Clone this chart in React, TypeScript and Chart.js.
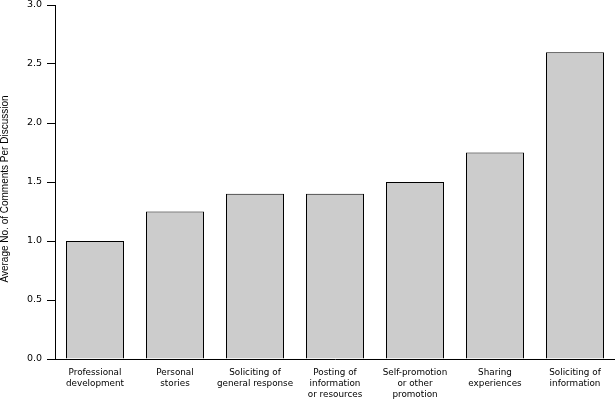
import React, { useEffect, useRef } from "react";
import { Chart, registerables } from "chart.js";

Chart.register(...registerables);

const categories: string[][] = [
  ["Professional", "development"],
  ["Personal", "stories"],
  ["Soliciting of", "general response"],
  ["Posting of", "information", "or resources"],
  ["Self-promotion", "or other", "promotion"],
  ["Sharing", "experiences"],
  ["Soliciting of", "information"],
];
const values: number[] = [1.0, 1.25, 1.4, 1.4, 1.5, 1.75, 2.6];
const yTitle = "Average No. of Comments Per Discussion";

const yTitlePlugin = {
  id: "yTitlePlugin",
  afterDraw(chart: any) {
    const c = chart.ctx;
    c.save();
    c.translate(10, 189);
    c.rotate(-Math.PI / 2);
    c.font = "10px 'Liberation Sans', Arial, sans-serif";
    c.fillStyle = "#000";
    c.textAlign = "center";
    c.textBaseline = "bottom";
    c.fillText(yTitle, 0, 0);
    c.restore();
  },
};

export default function App() {
  const ref = useRef<HTMLCanvasElement>(null);
  useEffect(() => {
    document.body.style.margin = "0";
    const ctx = ref.current!;
    const chart = new Chart(ctx, {
      type: "bar",
      data: {
        labels: categories,
        datasets: [
          {
            data: values,
            backgroundColor: "#cccccc",
            borderColor: "#000000",
            borderWidth: 1,
            categoryPercentage: 0.725,
            barPercentage: 1,
          },
        ],
      },
      plugins: [yTitlePlugin],
      options: {
        animation: false,
        responsive: false,
        maintainAspectRatio: false,
        layout: { padding: { top: 0, right: 0, left: 0, bottom: 0 } },
        plugins: { legend: { display: false }, tooltip: { enabled: false } },
        scales: {
          x: {
            grid: { display: false, drawOnChartArea: false },
            border: { display: true, color: "#000", width: 1 },
            ticks: {
              color: "#000",
              font: { family: "DejaVu Sans", size: 8.8, lineHeight: 1.25 },
              maxRotation: 0,
              autoSkip: false,
              padding: 0,
            },
            afterFit: (s: any) => {
              s.height = 40;
              s.paddingLeft = 0;
              s.paddingRight = 0;
            },
          },
          y: {
            min: 0,
            max: 3,
            ticks: {
              stepSize: 0.5,
              color: "#000",
              font: { family: "DejaVu Sans", size: 9.5 },
              callback: (v: any) => Number(v).toFixed(1),
              padding: 5,
            },
            grid: {
              drawOnChartArea: false,
              drawTicks: true,
              tickLength: 8,
              color: "#000",
            },
            border: { display: true, color: "#000", width: 1 },
            title: { display: false, text: yTitle },
            afterFit: (s: any) => {
              s.width = 55;
              s.paddingTop = 5;
              s.paddingBottom = 0;
            },
          },
        },
      },
    });
    return () => chart.destroy();
  }, []);
  return (
    <div style={{ position: "absolute", left: 0, top: 0, width: 615, height: 399 }}>
      <canvas ref={ref} width={615} height={399} style={{ width: 615, height: 399 }} />
    </div>
  );
}
